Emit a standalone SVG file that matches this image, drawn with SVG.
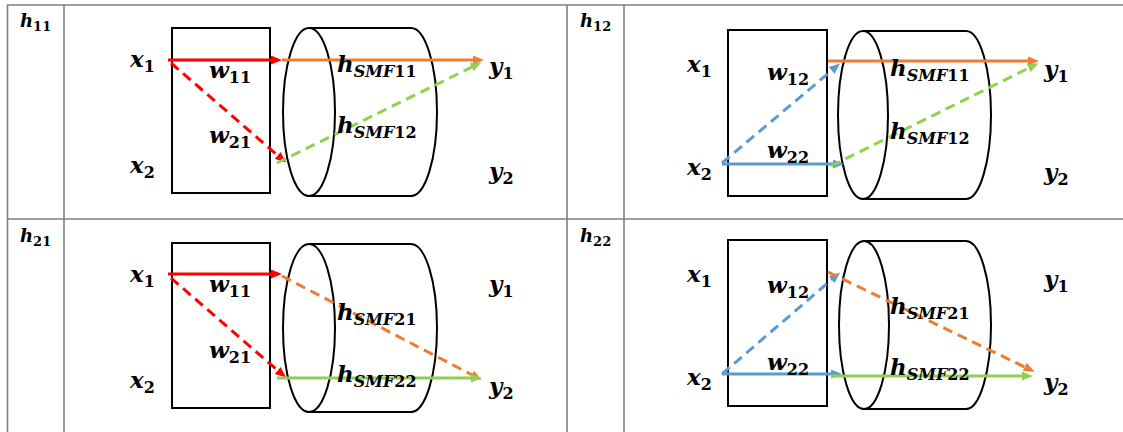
<svg xmlns="http://www.w3.org/2000/svg" width="1123" height="432" viewBox="0 0 1123 432">
<style>
.grid{stroke:#7f7f7f;stroke-width:1.6;fill:none}
.box{fill:none;stroke:#000;stroke-width:2}
.m{font-family:"DejaVu Serif","Liberation Serif",serif;font-weight:bold;font-style:italic;font-size:23px;fill:#000}
.t{font-size:18px}
.s{font-size:16px}
.ts{font-size:13px}
.u{font-style:normal}
.ln{fill:none;stroke-width:3}
.d{stroke-dasharray:10 6}
.r{stroke:#ff0000}.o{stroke:#ed7d31}.g{stroke:#92d050}.b{stroke:#5b9bd5}
</style>
<defs>
<marker id="ar" markerUnits="userSpaceOnUse" markerWidth="11" markerHeight="9" refX="7" refY="4.5" orient="auto"><path d="M0,0 L11,4.5 L0,9 z" fill="#ff0000"/></marker>
<marker id="ao" markerUnits="userSpaceOnUse" markerWidth="11" markerHeight="9" refX="7" refY="4.5" orient="auto"><path d="M0,0 L11,4.5 L0,9 z" fill="#ed7d31"/></marker>
<marker id="ag" markerUnits="userSpaceOnUse" markerWidth="11" markerHeight="9" refX="7" refY="4.5" orient="auto"><path d="M0,0 L11,4.5 L0,9 z" fill="#92d050"/></marker>
<marker id="ab" markerUnits="userSpaceOnUse" markerWidth="11" markerHeight="9" refX="7" refY="4.5" orient="auto"><path d="M0,0 L11,4.5 L0,9 z" fill="#5b9bd5"/></marker>
</defs>
<rect width="1123" height="432" fill="#fff"/>
<g id="table" class="grid">
<line x1="7" y1="5" x2="1123" y2="5"/>
<line x1="7" y1="219" x2="1123" y2="219"/>
<line x1="7.5" y1="5" x2="7.5" y2="432"/>
<line x1="64" y1="5" x2="64" y2="432"/>
<line x1="567" y1="5" x2="567" y2="432"/>
<line x1="624" y1="5" x2="624" y2="432"/>
</g>
<!-- Panel h11 -->
<g id="p11-title"><text class="m t" x="20" y="27">h<tspan class="ts u" dy="4">11</tspan></text></g>
<g id="p11-mod"><rect class="box" x="172" y="28" width="98" height="165"/></g>
<g id="p11-fiber"><ellipse class="box" cx="309" cy="112" rx="26" ry="84"/><path class="box" d="M309,28 L411,28 A26,84 0 0 1 411,196 L309,196"/></g>
<!-- Panel h12 -->
<g id="p12-title"><text class="m t" x="580" y="27">h<tspan class="ts u" dy="4">12</tspan></text></g>
<g id="p12-mod"><rect class="box" x="728" y="30" width="99" height="166"/></g>
<g id="p12-fiber"><ellipse class="box" cx="863" cy="115" rx="25" ry="84"/><path class="box" d="M863,31 L966,31 A25,84 0 0 1 966,199 L863,199"/></g>
<!-- Panel h21 -->
<g id="p21-title"><text class="m t" x="20" y="242">h<tspan class="ts u" dy="4">21</tspan></text></g>
<g id="p21-mod"><rect class="box" x="172" y="243" width="98" height="165"/></g>
<g id="p21-fiber"><ellipse class="box" cx="309" cy="328" rx="26" ry="84"/><path class="box" d="M309,244 L411,244 A26,84 0 0 1 411,412 L309,412"/></g>
<!-- Panel h22 -->
<g id="p22-title"><text class="m t" x="580" y="242">h<tspan class="ts u" dy="4">22</tspan></text></g>
<g id="p22-mod"><rect class="box" x="728" y="240" width="99" height="166"/></g>
<g id="p22-fiber"><ellipse class="box" cx="864" cy="325" rx="25" ry="84"/><path class="box" d="M864,241 L966,241 A25,84 0 0 1 966,409 L864,409"/></g>

<g id="connectors">
<!-- p11 -->
<line class="ln r" x1="168" y1="60" x2="278" y2="60" marker-end="url(#ar)"/>
<line class="ln o" x1="282" y1="60" x2="480" y2="60" marker-end="url(#ao)"/>
<line class="ln r d" x1="171" y1="63" x2="283" y2="160" marker-end="url(#ar)"/>
<line class="ln g d" x1="277" y1="163" x2="478" y2="64" marker-end="url(#ag)"/>
<!-- p12 -->
<line class="ln o" x1="828" y1="61" x2="1035" y2="61" marker-end="url(#ao)"/>
<line class="ln b d" x1="722" y1="163" x2="837" y2="66" marker-end="url(#ab)"/>
<line class="ln b" x1="722" y1="164" x2="840" y2="164" marker-end="url(#ab)"/>
<line class="ln g d" x1="831" y1="166" x2="1035" y2="65" marker-end="url(#ag)"/>
<!-- p21 -->
<line class="ln r" x1="168" y1="274" x2="278" y2="274" marker-end="url(#ar)"/>
<line class="ln r d" x1="171" y1="278" x2="283" y2="375" marker-end="url(#ar)"/>
<line class="ln o d" x1="282" y1="276" x2="478" y2="378" marker-end="url(#ao)"/>
<line class="ln g" x1="277" y1="378" x2="478" y2="378" marker-end="url(#ag)"/>
<!-- p22 -->
<line class="ln b d" x1="722" y1="374" x2="837" y2="275" marker-end="url(#ab)"/>
<line class="ln b" x1="722" y1="374" x2="838" y2="374" marker-end="url(#ab)"/>
<line class="ln o d" x1="828" y1="272" x2="1031" y2="370" marker-end="url(#ao)"/>
<line class="ln g" x1="831" y1="376" x2="1029" y2="376" marker-end="url(#ag)"/>
</g>

<g id="p11-labels" class="m">
<text x="130" y="67">x<tspan class="s u" dy="5">1</tspan></text>
<text x="130" y="173">x<tspan class="s u" dy="5">2</tspan></text>
<text x="209" y="78">w<tspan class="s u" dy="5">11</tspan></text>
<text x="209" y="143">w<tspan class="s u" dy="5">21</tspan></text>
<text x="337" y="72">h<tspan class="s" dy="5">SMF<tspan class="u">11</tspan></tspan></text>
<text x="337" y="133">h<tspan class="s" dy="5">SMF<tspan class="u">12</tspan></tspan></text>
<text x="489" y="74">y<tspan class="s u" dy="5">1</tspan></text>
<text x="489" y="179">y<tspan class="s u" dy="5">2</tspan></text>
</g>
<g id="p12-labels" class="m">
<text x="687" y="72">x<tspan class="s u" dy="5">1</tspan></text>
<text x="687" y="175">x<tspan class="s u" dy="5">2</tspan></text>
<text x="767" y="80">w<tspan class="s u" dy="5">12</tspan></text>
<text x="767" y="158">w<tspan class="s u" dy="5">22</tspan></text>
<text x="890" y="76">h<tspan class="s" dy="5">SMF<tspan class="u">11</tspan></tspan></text>
<text x="890" y="139">h<tspan class="s" dy="5">SMF<tspan class="u">12</tspan></tspan></text>
<text x="1044" y="77">y<tspan class="s u" dy="5">1</tspan></text>
<text x="1044" y="180">y<tspan class="s u" dy="5">2</tspan></text>
</g>
<g id="p21-labels" class="m">
<text x="130" y="282">x<tspan class="s u" dy="5">1</tspan></text>
<text x="130" y="388">x<tspan class="s u" dy="5">2</tspan></text>
<text x="209" y="292">w<tspan class="s u" dy="5">11</tspan></text>
<text x="209" y="358">w<tspan class="s u" dy="5">21</tspan></text>
<text x="337" y="320">h<tspan class="s" dy="5">SMF<tspan class="u">21</tspan></tspan></text>
<text x="337" y="382">h<tspan class="s" dy="5">SMF<tspan class="u">22</tspan></tspan></text>
<text x="489" y="292">y<tspan class="s u" dy="5">1</tspan></text>
<text x="489" y="394">y<tspan class="s u" dy="5">2</tspan></text>
</g>
<g id="p22-labels" class="m">
<text x="687" y="282">x<tspan class="s u" dy="5">1</tspan></text>
<text x="687" y="385">x<tspan class="s u" dy="5">2</tspan></text>
<text x="767" y="293">w<tspan class="s u" dy="5">12</tspan></text>
<text x="767" y="370">w<tspan class="s u" dy="5">22</tspan></text>
<text x="890" y="314">h<tspan class="s" dy="5">SMF<tspan class="u">21</tspan></tspan></text>
<text x="890" y="375">h<tspan class="s" dy="5">SMF<tspan class="u">22</tspan></tspan></text>
<text x="1044" y="287">y<tspan class="s u" dy="5">1</tspan></text>
<text x="1044" y="390">y<tspan class="s u" dy="5">2</tspan></text>
</g>
</svg>
